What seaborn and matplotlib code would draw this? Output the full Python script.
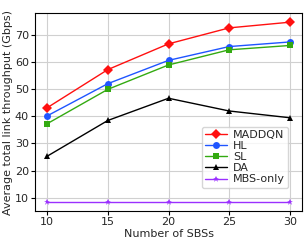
import pandas as pd
import seaborn as sns
import matplotlib.pyplot as plt
from matplotlib.ticker import MultipleLocator

# Values
num_sbs = [10, 15, 20, 25, 30]
maddqn = [43.2, 57.3, 66.8, 72.7, 74.8]
hl = [40.2, 52.1, 60.7, 65.8, 67.5]
sl = [37.3, 50.0, 59.0, 64.6, 66.2]
da = [25.3, 38.5, 46.7, 42.0, 39.5]
mbs_only = [8.3, 8.3, 8.3, 8.3, 8.3]

methods = ['MADDQN', 'HL', 'SL', 'DA', 'MBS-only']
series = [maddqn, hl, sl, da, mbs_only]

rows = []
for name, vals in zip(methods, series):
    for n, v in zip(num_sbs, vals):
        rows.append({'Number of SBSs': n, 'Throughput': v, 'Method': name})
df = pd.DataFrame(rows)

sns.set_style('whitegrid', {'axes.edgecolor': 'black', 'grid.color': '#d0d0d0'})
plt.rcParams['font.family'] = ['DejaVu Sans']

palette = {'MADDQN': '#ff1010', 'HL': '#1f55ff', 'SL': '#33aa11',
           'DA': 'black', 'MBS-only': '#9b30ff'}
markers = {'MADDQN': 'D', 'HL': 'o', 'SL': 's', 'DA': '^', 'MBS-only': '*'}

fig, ax = plt.subplots(figsize=(3.05, 2.4), dpi=100)
sns.lineplot(data=df, x='Number of SBSs', y='Throughput', hue='Method',
             style='Method', markers=markers, dashes=False, palette=palette,
             hue_order=methods, markersize=5, linewidth=1.0,
             markeredgewidth=0, ax=ax)

ax.set_xticks(num_sbs)
ax.yaxis.set_major_locator(MultipleLocator(10))
ax.set_xlabel('Number of SBSs', fontsize=8, labelpad=1)
ax.set_ylabel('Average total link throughput (Gbps)', fontsize=8, labelpad=1)
ax.tick_params(labelsize=8, length=3, pad=1.5, color='black')
ax.tick_params(axis='both', which='both', bottom=True, left=True)
for s in ax.spines.values():
    s.set_linewidth(0.8)

ax.legend(loc='lower right', bbox_to_anchor=(0.97, 0.09), fontsize=8,
          handlelength=2, labelspacing=0.1, borderpad=0.3, handletextpad=0.5,
          frameon=True)

fig.subplots_adjust(left=0.115, right=0.99, top=0.945, bottom=0.12)
fig.savefig('out.png', dpi=100)
